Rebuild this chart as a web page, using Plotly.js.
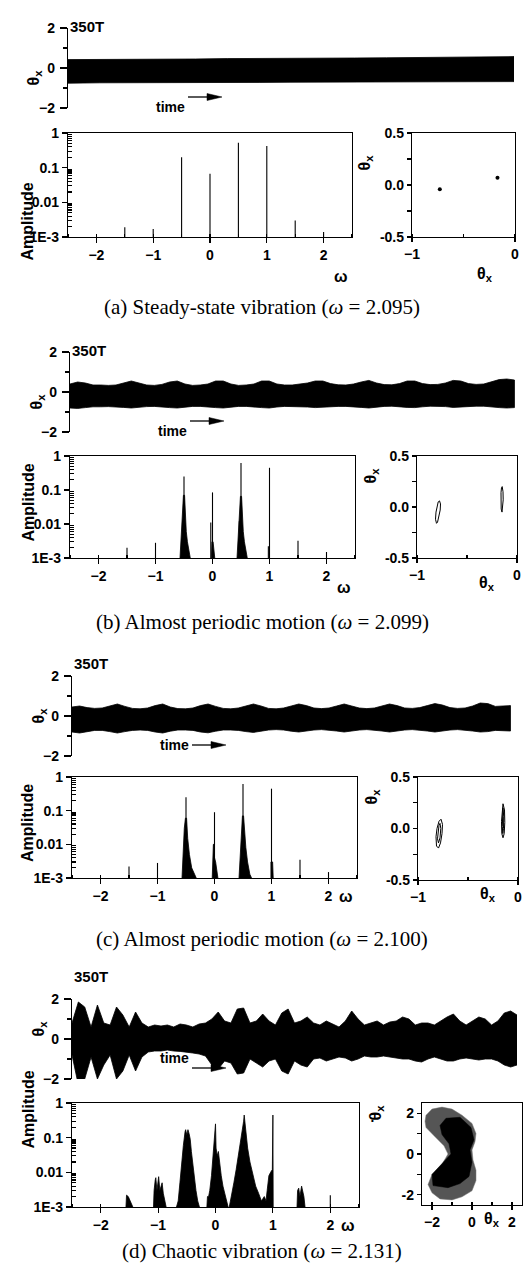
<!DOCTYPE html>
<html><head><meta charset="utf-8">
<script src="https://cdn.plot.ly/plotly-3.0.1.min.js"></script>
<style>html,body{margin:0;padding:0;background:#fff}#chart{width:523px;height:1278px}</style>
</head><body><div id="chart"></div>
<script>
// ---------------- DATA ----------------
// Time histories: envelope of theta_x (upper / lower), time in periods (0..350T)
const timeA = [0,25,50,75,100,125,150,175,200,225,250,275,300,325,350];
const upperA = [0.42,0.42,0.44,0.44,0.45,0.47,0.47,0.48,0.5,0.5,0.51,0.52,0.53,0.55,0.57];
const lowerA = [-0.76,-0.74,-0.75,-0.73,-0.74,-0.72,-0.72,-0.71,-0.71,-0.7,-0.7,-0.69,-0.69,-0.68,-0.68];

const timeBC = [0,6,12,18,24,30,36,42,48,54,60,66,72,78,84,90,96,102,108,114,120,126,132,138,144,150,156,162,168,174,180,186,192,198,204,210,216,222,228,234,240,246,252,258,264,270,276,282,288,294,300,306,312,318,324,330,336,342,348];
const upperB = [0.4,0.5,0.45,0.35,0.35,0.33,0.35,0.45,0.55,0.45,0.35,0.33,0.38,0.5,0.55,0.4,0.33,0.35,0.4,0.55,0.55,0.4,0.33,0.35,0.4,0.55,0.55,0.4,0.35,0.35,0.4,0.45,0.55,0.55,0.42,0.36,0.35,0.4,0.5,0.58,0.45,0.37,0.36,0.42,0.55,0.55,0.42,0.37,0.38,0.45,0.58,0.55,0.42,0.38,0.4,0.5,0.62,0.65,0.6];
const lowerB = [-0.8,-0.82,-0.78,-0.74,-0.74,-0.73,-0.74,-0.77,-0.8,-0.76,-0.73,-0.72,-0.74,-0.78,-0.8,-0.76,-0.72,-0.72,-0.74,-0.78,-0.8,-0.75,-0.72,-0.72,-0.74,-0.78,-0.8,-0.75,-0.72,-0.72,-0.73,-0.75,-0.78,-0.78,-0.74,-0.72,-0.72,-0.74,-0.77,-0.8,-0.75,-0.72,-0.71,-0.73,-0.77,-0.78,-0.74,-0.71,-0.71,-0.73,-0.77,-0.77,-0.74,-0.71,-0.71,-0.74,-0.78,-0.8,-0.78];
const upperC = [0.45,0.5,0.42,0.38,0.4,0.5,0.6,0.48,0.38,0.36,0.4,0.52,0.6,0.45,0.37,0.36,0.4,0.52,0.6,0.48,0.38,0.36,0.4,0.5,0.6,0.5,0.38,0.36,0.4,0.5,0.6,0.52,0.4,0.37,0.4,0.5,0.6,0.5,0.4,0.37,0.4,0.5,0.6,0.52,0.4,0.38,0.42,0.52,0.62,0.55,0.42,0.38,0.4,0.5,0.65,0.62,0.48,0.5,0.52];
const lowerC = [-0.8,-0.85,-0.78,-0.72,-0.72,-0.78,-0.85,-0.78,-0.72,-0.7,-0.72,-0.8,-0.85,-0.76,-0.7,-0.7,-0.72,-0.8,-0.84,-0.76,-0.7,-0.7,-0.72,-0.78,-0.82,-0.76,-0.7,-0.68,-0.7,-0.76,-0.8,-0.76,-0.7,-0.68,-0.7,-0.75,-0.8,-0.75,-0.7,-0.68,-0.7,-0.75,-0.8,-0.76,-0.7,-0.68,-0.7,-0.75,-0.8,-0.76,-0.7,-0.68,-0.7,-0.75,-0.8,-0.78,-0.72,-0.72,-0.75];

const timeD = [0,5,10,15,20,25,30,35,40,45,50,55,60,65,70,75,80,85,90,95,100,105,110,115,120,125,130,135,140,145,150,155,160,165,170,175,180,185,190,195,200,205,210,215,220,225,230,235,240,245,250,255,260,265,270,275,280,285,290,295,300,305,310,315,320,325,330,335,340,345,350];
const upperD = [0.8,1.85,1.6,0.6,1.7,0.8,0.7,1.6,1.2,0.6,1.35,0.8,0.6,0.7,0.65,0.7,0.6,0.75,0.7,0.6,0.75,0.8,1.0,1.35,0.9,0.8,1.5,1.55,0.8,0.9,1.25,0.9,0.7,1.3,1.5,0.8,0.9,1.1,0.8,0.7,0.9,0.75,0.6,0.9,1.4,1.0,0.7,0.8,0.9,0.7,0.85,0.9,1.1,1.0,0.7,0.8,0.8,0.7,0.9,1.1,1.25,0.9,0.7,0.9,1.1,1.0,0.7,0.9,1.3,1.4,1.2];
const lowerD = [-0.8,-2.3,-2.0,-0.9,-2.0,-1.3,-0.8,-2.0,-1.6,-0.8,-1.6,-0.9,-0.65,-0.6,-0.6,-0.55,-0.6,-0.62,-0.65,-0.7,-0.75,-0.85,-1.3,-1.5,-1.1,-1.2,-1.75,-1.7,-1.0,-1.2,-1.4,-1.1,-1.0,-1.6,-1.75,-1.1,-1.3,-1.4,-1.0,-0.95,-1.1,-1.0,-0.9,-0.95,-1.1,-1.0,-0.85,-0.9,-0.9,-0.85,-0.9,-0.95,-1.0,-1.0,-1.1,-1.15,-1.0,-0.9,-1.0,-1.1,-1.1,-1.0,-0.95,-1.0,-1.05,-1.0,-1.0,-1.1,-1.3,-1.4,-1.3];

// Spectra: discrete lines (frequency, amplitude)
const lineFreqA = [-1.5,-1,-0.5,0,0.5,1,1.5,2];
const lineAmpA  = [0.0019,0.0017,0.2,0.067,0.52,0.42,0.003,0.0014];
const lineFreqB = [-1.5,-1,-0.5,-0.03,0,0.47,0.5,0.98,1,1.5,2];
const lineAmpB  = [0.002,0.0028,0.25,0.011,0.085,0.012,0.62,0.0022,0.45,0.0032,0.0015];
const lineFreqC = [-1.5,-1,-0.5,0,0.5,1,1.5,2];
const lineAmpC  = [0.0022,0.0028,0.25,0.09,0.62,0.45,0.0035,0.0015];
const lineFreqD = [2];
const lineAmpD  = [0.0022];
// Spectra: broadened peaks (outline points, frequency / amplitude), null separates peaks
const bandFreqB = [-0.57,-0.55,-0.53,-0.51,-0.49,-0.48,-0.46,-0.44,-0.41,-0.39,null,
  -0.02,-0.01,0.01,0.03,0.04,null,
  0.43,0.45,0.47,0.49,0.51,0.52,0.54,0.56,0.59,0.61];
const bandAmpB = [0.001,0.004,0.015,0.07,0.07,0.02,0.006,0.003,0.0015,0.001,null,
  0.001,0.003,0.003,0.0012,0.001,null,
  0.001,0.004,0.015,0.065,0.065,0.02,0.006,0.003,0.0013,0.001];
const bandFreqC = [-0.57,-0.55,-0.53,-0.51,-0.49,-0.47,-0.44,-0.4,-0.35,-0.32,null,
  -0.04,-0.03,-0.02,-0.01,0,0.02,0.04,0.06,null,
  0.43,0.45,0.47,0.49,0.51,0.53,0.55,0.58,0.62,0.65,null,
  0.99,0.99,1.02,1.03];
const bandAmpC = [0.001,0.006,0.03,0.06,0.06,0.015,0.005,0.002,0.0012,0.001,null,
  0.001,0.004,0.01,0.01,0.004,0.003,0.0015,0.001,null,
  0.001,0.005,0.02,0.07,0.07,0.02,0.008,0.003,0.0013,0.001,null,
  0.001,0.003,0.003,0.001];
const bandFreqD = [-1.56,-1.55,-1.52,-1.5,-1.47,-1.44,null,
  -1.08,-1.07,-1.05,-1.04,-1.02,-1,-0.99,-0.97,-0.95,-0.93,-0.91,-0.88,-0.86,null,
  -0.68,-0.65,-0.62,-0.59,-0.56,-0.53,-0.52,-0.5,-0.48,-0.46,-0.44,-0.42,-0.4,-0.37,-0.34,-0.31,-0.28,null,
  -0.15,-0.14,-0.12,-0.1,-0.07,-0.04,-0.02,0,0.01,0.03,0.05,0.07,0.1,0.13,0.17,0.22,null,
  0.24,0.28,0.32,0.36,0.4,0.44,0.47,0.49,0.5,0.51,0.53,0.56,0.6,0.65,0.7,0.75,0.8,0.85,0.88,0.9,0.93,0.96,0.99,1,1.005,null,
  1.42,1.43,1.45,1.47,1.5,1.52,1.54,1.56];
const bandAmpD = [0.001,0.0022,0.002,0.0016,0.0013,0.001,null,
  0.001,0.003,0.006,0.007,0.003,0.006,0.0075,0.003,0.004,0.005,0.0025,0.0012,0.001,null,
  0.001,0.0015,0.005,0.02,0.06,0.15,0.17,0.12,0.17,0.13,0.09,0.04,0.02,0.008,0.003,0.0015,0.001,null,
  0.001,0.002,0.002,0.003,0.008,0.03,0.08,0.25,0.05,0.03,0.04,0.02,0.008,0.004,0.002,0.001,null,
  0.001,0.002,0.005,0.012,0.03,0.1,0.2,0.3,0.45,0.3,0.15,0.05,0.02,0.008,0.004,0.0025,0.0015,0.002,0.0015,0.003,0.008,0.01,0.012,0.45,0.001,null,
  0.001,0.003,0.0035,0.002,0.004,0.003,0.002,0.001];

// Poincare maps (theta_x, theta_x dot)
const poinXA = [-0.73,-0.17];
const poinYA = [-0.04,0.07];
const poinXB = [-0.775,-0.765,-0.768,-0.78,-0.795,-0.805,-0.815,-0.81,-0.8,-0.788,-0.775,null,
  -0.148,-0.14,-0.138,-0.142,-0.15,-0.158,-0.162,-0.16,-0.155,-0.148];
const poinYB = [0.06,0.03,-0.03,-0.1,-0.15,-0.16,-0.12,-0.05,0.01,0.05,0.06,null,
  0.2,0.15,0.07,0,-0.05,-0.02,0.06,0.14,0.19,0.2];
const poinXC = [-0.77,-0.755,-0.76,-0.775,-0.795,-0.815,-0.82,-0.81,-0.79,-0.77,null,
  -0.78,-0.772,-0.78,-0.795,-0.805,-0.8,-0.79,-0.78,null,
  -0.15,-0.135,-0.132,-0.138,-0.15,-0.162,-0.165,-0.16,-0.15,null,
  -0.15,-0.143,-0.145,-0.152,-0.157,-0.156,-0.15];
const poinYC = [0.09,0.04,-0.05,-0.14,-0.19,-0.17,-0.08,0,0.07,0.09,null,
  0.05,0,-0.09,-0.14,-0.1,-0.02,0.03,0.05,null,
  0.24,0.18,0.06,-0.05,-0.09,-0.05,0.07,0.18,0.24,null,
  0.2,0.12,0,-0.05,0.02,0.14,0.2];
// chaotic attractor: outer (sparse) and inner (dense) outlines
const cloudOuterX = [-2.3,-2.0,-1.5,-1.0,-0.5,0.0,0.2,0.15,0.0,0.05,0.2,0.2,0.0,-0.5,-1.0,-1.6,-2.0,-2.2,-2.0,-1.5,-1.2,-1.4,-1.9,-2.3,-2.35,-2.3];
const cloudOuterY = [1.9,2.2,2.3,2.2,1.9,1.5,1.0,0.6,0.2,-0.3,-0.8,-1.3,-1.8,-2.1,-2.25,-2.2,-1.9,-1.5,-1.0,-0.5,0.0,0.4,0.9,1.3,1.6,1.9];
const cloudInnerX = [-1.3,-0.6,-0.05,0.1,-0.1,0.0,-0.15,-0.6,-1.2,-1.95,-2.0,-1.5,-1.05,-1.15,-1.5,-1.6,-1.3];
const cloudInnerY = [1.75,1.8,1.3,0.7,0.2,-0.4,-1.1,-1.45,-1.65,-1.55,-1.0,-0.45,0.0,0.5,0.95,1.4,1.75];

const captions = ['(a) Steady-state vibration (<i>ω</i> = 2.095)','(b) Almost periodic motion (<i>ω</i> = 2.099)','(c) Almost periodic motion (<i>ω</i> = 2.100)','(d) Chaotic vibration (<i>ω</i> = 2.131)'];

// ---------------- LAYOUT ----------------
const W = 523, H = 1278;
const fx = p => p / W, fy = p => 1 - p / H;
const boxes = [
  {ts:[68,514,28,108], sp:[68,352,133,237], ph:[412,515,133,237], cap:293},
  {ts:[70,517,352,432], sp:[70,355,456,558], ph:[417,517,456,558], cap:622},
  {ts:[72,513,676,756], sp:[72,357,777,878], ph:[418,518,777,880], cap:953},
  {ts:[72,517,999,1079], sp:[72,359,1103,1207], ph:[422,522,1103,1205], cap:1265}
];
const tsData = [[timeA,upperA,lowerA],[timeBC,upperB,lowerB],[timeBC,upperC,lowerC],[timeD,upperD,lowerD]];
const lineData = [[lineFreqA,lineAmpA],[lineFreqB,lineAmpB],[lineFreqC,lineAmpC],[lineFreqD,lineAmpD]];
const bandData = [null,[bandFreqB,bandAmpB],[bandFreqC,bandAmpC],[bandFreqD,bandAmpD]];

const FONT = {family:'Liberation Sans, Arial, sans-serif', size:14, color:'#000', weight:'bold'};
const f = s => Object.assign({}, FONT, {size:s});
const id = n => n === 1 ? '' : String(n);
const traces = [], annotations = [], shapes = [];
const layout = {width:W, height:H, margin:{l:0,r:0,t:0,b:0}, showlegend:false,
  paper_bgcolor:'#fff', plot_bgcolor:'rgba(0,0,0,0)', font:FONT};

const logMinor = [];
[0.001,0.01,0.1].forEach(d => { for (let k=2;k<=9;k++) logMinor.push(d*k); });

function ann(text, x, y, extra) {
  annotations.push(Object.assign({text, x:fx(x), y:fy(y), xref:'paper', yref:'paper',
    showarrow:false, font:FONT}, extra||{}));
}

boxes.forEach((b, i) => {
  const nT = 3*i+1, nS = 3*i+2, nP = 3*i+3;
  const common = {linecolor:'#000', linewidth:1.2, tickcolor:'#000', tickwidth:1.2, zeroline:false, showgrid:false, fixedrange:true, tickfont:f(14)};
  // time history
  layout['xaxis'+id(nT)] = Object.assign({}, common, {domain:[fx(b.ts[0]),fx(b.ts[1])], range:[0,350], anchor:'y'+id(nT), visible:false});
  layout['yaxis'+id(nT)] = Object.assign({}, common, {domain:[fy(b.ts[3]),fy(b.ts[2])], range:[-2,2], anchor:'x'+id(nT),
    showline:true, tickvals:[-2,0,2], ticks:'outside', ticklen:7, ticklabelstandoff:2,
    minor:{tickvals:[-1,1], ticks:'outside', ticklen:4, tickcolor:'#000', tickwidth:1.2}});
  const [t,u,l] = tsData[i];
  traces.push({x:t.concat(t.slice().reverse()), y:u.concat(l.slice().reverse()), mode:'lines', fill:'toself',
    fillcolor:'#000', line:{color:'#000', width:0.8}, xaxis:'x'+id(nT), yaxis:'y'+id(nT), hoverinfo:'skip'});

  // spectrum
  layout['xaxis'+id(nS)] = Object.assign({}, common, {domain:[fx(b.sp[0]),fx(b.sp[1])], range:[-2.5,2.5], anchor:'y'+id(nS),
    showline:true, mirror:true, tickvals:[-2,-1,0,1,2], ticks:'outside', ticklen:5,
    minor:{dtick:0.5, ticks:'inside', ticklen:3, tickcolor:'#000'}});
  layout['yaxis'+id(nS)] = Object.assign({}, common, {domain:[fy(b.sp[3]),fy(b.sp[2])], type:'log', range:[-3,0], anchor:'x'+id(nS),
    showline:true, mirror:true, tickvals:[0.001,0.01,0.1,1], ticktext:['1E-3','0.01','0.1','1'], ticks:'outside', ticklen:5,
    minor:{tickvals:logMinor, ticks:'inside', ticklen:4, tickcolor:'#000'}});
  const [lf, la] = lineData[i];
  const lx = [], ly = [];
  lf.forEach((fr, k) => { lx.push(fr, fr, null); ly.push(0.001, la[k], null); });
  traces.push({x:lx, y:ly, mode:'lines', line:{color:'#000', width:1.1}, xaxis:'x'+id(nS), yaxis:'y'+id(nS), hoverinfo:'skip'});
  if (bandData[i]) {
    traces.push({x:bandData[i][0], y:bandData[i][1], mode:'lines', fill:'toself', fillcolor:'#000',
      line:{color:'#000', width:0.8}, xaxis:'x'+id(nS), yaxis:'y'+id(nS), hoverinfo:'skip'});
  }

  // Poincare
  const isD = i === 3;
  layout['xaxis'+id(nP)] = Object.assign({}, common, {domain:[fx(b.ph[0]),fx(b.ph[1])], range:isD?[-2.5,2.5]:[-1,0], anchor:'y'+id(nP),
    showline:true, mirror:true, tickvals:isD?[-2,0,2]:[-1,0], ticks:'outside', ticklen:4,
    minor:{dtick:isD?1:0.5, ticks:'inside', ticklen:3, tickcolor:'#000'}});
  layout['yaxis'+id(nP)] = Object.assign({}, common, {domain:[fy(b.ph[3]),fy(b.ph[2])], range:isD?[-2.5,2.5]:[-0.5,0.5], anchor:'x'+id(nP),
    showline:true, mirror:true, tickvals:isD?[-2,0,2]:[-0.5,0,0.5], ticktext:isD?['-2','0','2']:['-0.5','0.0','0.5'], ticks:'outside', ticklen:4,
    minor:{dtick:isD?1:0.25, ticks:'outside', ticklen:4, tickcolor:'#000'}});

  // annotations
  ann('350T', b.ts[0], b.ts[2]-12, {xanchor:'left', font:f(15)});
  ann('time', b.ts[0]+102, b.ts[2]+69, {xanchor:'center', font:f(14)});
  const ya = b.ts[2]+69, xa0 = b.ts[0]+120, xa1 = b.ts[0]+154;
  shapes.push({type:'line', xref:'paper', yref:'paper', x0:fx(xa0), x1:fx(xa1-8), y0:fy(ya), y1:fy(ya), line:{color:'#000', width:1.3}});
  shapes.push({type:'path', xref:'paper', yref:'paper', fillcolor:'#000', line:{color:'#000', width:0.5},
    path:`M ${fx(xa1-15)} ${fy(ya-3.5)} L ${fx(xa1)} ${fy(ya)} L ${fx(xa1-15)} ${fy(ya+3.5)} Z`});
  ann('θ<sub>x</sub>', b.ts[0]-45, (b.ts[2]+b.ts[3])/2, {textangle:-90, font:f(16)});
  ann('Amplitude', 17, (b.sp[2]+b.sp[3])/2 - 4, {textangle:-90, font:f(16)});
  ann('ω', b.sp[1]-11, b.sp[3]+29, {font:f(16)});
  ann('θ<sub>x</sub>', b.ph[0]-35, b.ph[2]+20, {textangle:-90, font:f(16)});
  ann('•', b.ph[0]-46, b.ph[2]+24, {font:f(8)});
  ann('θ<sub>x</sub>', b.ph[1]-20, b.ph[3]+26, {font:f(16)});
  ann(captions[i], 262, b.cap, {font:{family:'Liberation Serif, Times New Roman, serif', size:21, color:'#000', weight:'normal'}});
});

// Poincare traces
traces.push({x:poinXA, y:poinYA, mode:'markers', marker:{color:'#000', size:4}, xaxis:'x3', yaxis:'y3', hoverinfo:'skip'});
traces.push({x:poinXB, y:poinYB, mode:'lines', line:{color:'#000', width:1}, xaxis:'x6', yaxis:'y6', hoverinfo:'skip'});
traces.push({x:poinXC, y:poinYC, mode:'lines', line:{color:'#000', width:1}, xaxis:'x9', yaxis:'y9', hoverinfo:'skip'});
traces.push({x:cloudOuterX, y:cloudOuterY, mode:'lines', fill:'toself', fillcolor:'#555', line:{color:'#777', width:0.5}, xaxis:'x12', yaxis:'y12', hoverinfo:'skip'});
traces.push({x:cloudInnerX, y:cloudInnerY, mode:'lines', fill:'toself', fillcolor:'#000', line:{color:'#000', width:0.5}, xaxis:'x12', yaxis:'y12', hoverinfo:'skip'});

layout.annotations = annotations;
layout.shapes = shapes;
Plotly.newPlot('chart', traces, layout, {staticPlot:true, displayModeBar:false});
</script></body></html>
